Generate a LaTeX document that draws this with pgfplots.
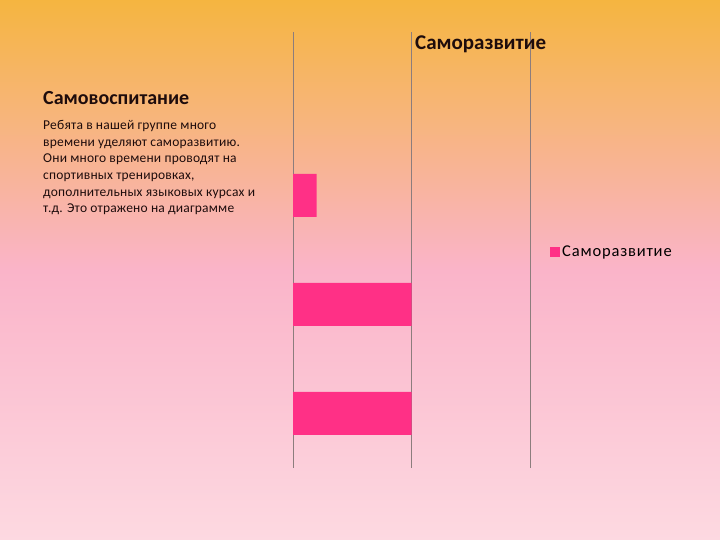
\documentclass[border=0pt]{standalone}
\usepackage{fontspec}
\setmainfont{Carlito}
\usepackage{pgfplots}
\pgfplotsset{compat=1.18}

\definecolor{bgtop}{RGB}{245,181,64}
\definecolor{bgmid}{RGB}{250,180,201}
\definecolor{bgbot}{RGB}{253,217,225}
\definecolor{barpink}{RGB}{255,48,134}
\definecolor{gridgray}{RGB}{140,125,125}
\definecolor{txt}{RGB}{30,12,12}

\begin{document}
\begin{tikzpicture}[x=1pt,y=1pt]
% slide background
\shade[top color=bgtop, bottom color=bgbot, middle color=bgmid] (0,0) rectangle (720,540);

\begin{axis}[
    at={(293pt,72pt)}, anchor=south west,
    scale only axis,
    width=237pt, height=436pt,
    xbar, bar width=43pt,
    xmin=0, xmax=2,
    ymin=0.5, ymax=4.5,
    xtick={0,1,2}, xticklabels={},
    ytick=\empty,
    major tick length=0pt,
    xmajorgrids,
    grid style={gridgray, line width=0.6pt},
    axis line style={draw=none},
    legend style={at={(1,0.5)}, anchor=west, xshift=17pt, yshift=-2pt, draw=none, fill=none,
        font=\fontsize{16.5}{18}\selectfont\addfontfeature{LetterSpace=5}, text=black},
    legend image code/.code={\fill[barpink] (-3pt,-5pt) rectangle (7pt,5pt);},
]
\addplot[fill=barpink, draw=none] coordinates {
    (1,1)
    (1,2)
    (0.2,3)
};
\addlegendentry{Саморазвитие}
\end{axis}

\node[anchor=west, text=txt, inner xsep=0pt, font=\bfseries\fontsize{21}{23}\selectfont] at (415,496) {Саморазвитие};
\node[anchor=west, text=txt, inner xsep=0pt, font=\bfseries\fontsize{20}{22}\selectfont] at (43,442) {Самовоспитание};
\node[anchor=north west, text=txt, align=left, inner sep=0pt,
      font=\fontsize{13.5}{16.7}\selectfont\addfontfeature{LetterSpace=1.5}] at (43,420) {Ребята в нашей группе много\\
времени уделяют саморазвитию.\\
Они много времени проводят на\\
спортивных тренировках,\\
дополнительных языковых курсах и\\
т.д. Это отражено на диаграмме};

\pgfresetboundingbox
\useasboundingbox (0,0) rectangle (720,540);
\end{tikzpicture}
\end{document}
